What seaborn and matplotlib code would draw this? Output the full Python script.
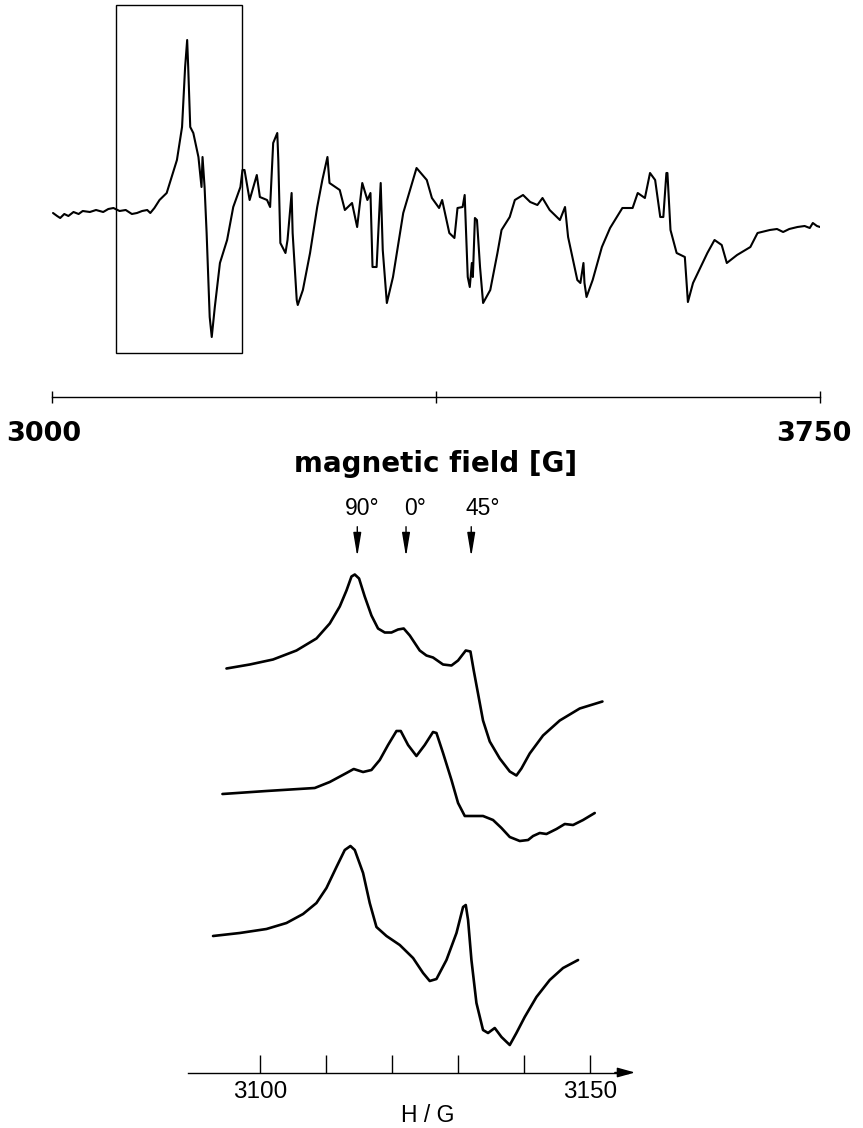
import matplotlib
matplotlib.use("Agg")
import matplotlib.pyplot as plt
from matplotlib import font_manager
from matplotlib.patches import Rectangle
from matplotlib.transforms import ScaledTranslation, blended_transform_factory
import seaborn as sns

# ---------------- data: overview spectrum (3000-3750 G) ----------------
top_field = [3001, 3005, 3008, 3012, 3016, 3021, 3026, 3030, 3037, 3043, 3050, 3055,
             3060, 3066, 3072, 3078, 3083, 3088, 3093, 3096, 3100, 3105, 3112, 3122,
             3127, 3130, 3132, 3133, 3135, 3138, 3143, 3146, 3147, 3149, 3151, 3154,
             3156, 3159, 3164, 3171, 3177, 3184, 3186, 3188, 3193, 3200, 3203, 3210,
             3213, 3216, 3220, 3221, 3223, 3228, 3230, 3234, 3235, 3239, 3240, 3245,
             3252, 3259, 3264, 3269, 3271, 3281, 3286, 3293, 3298, 3303, 3308, 3311,
             3313, 3317, 3321, 3323, 3327, 3333, 3343, 3356, 3366, 3371, 3378, 3381,
             3388, 3393, 3396, 3401, 3403, 3406, 3408, 3410, 3411, 3413, 3415, 3418,
             3421, 3428, 3435, 3439, 3447, 3452, 3460, 3467, 3474, 3479, 3486, 3496,
             3501, 3504, 3513, 3516, 3519, 3520, 3522, 3528, 3537, 3545, 3557, 3567,
             3572, 3579, 3584, 3589, 3594, 3597, 3600, 3601, 3604, 3610, 3618, 3621,
             3626, 3640, 3647, 3654, 3659, 3669, 3682, 3689, 3701, 3708, 3714, 3720,
             3728, 3735, 3740, 3743, 3747, 3750]
top_signal = [0, -3, -5, -1, -3, 1, -1, 2, 1, 3, 1, 4,
              5, 2, 3, -1, 0, 2, 3, 0, 5, 13, 20, 53,
              86, 146, 173, 146, 86, 80, 56, 26, 56, 26, -20, -104,
              -124, -94, -50, -27, 6, 26, 43, 43, 13, 38, 16, 13,
              6, 70, 80, 53, -30, -40, -27, 20, -20, -87, -92, -77,
              -40, 6, 33, 56, 30, 23, 3, 10, -14, 30, 13, 20,
              -54, -54, 30, -37, -90, -64, 0, 45, 33, 15, 5, 13,
              -20, -25, 5, 6, 18, -64, -74, -50, -64, -5, -7, -54,
              -90, -77, -40, -17, -4, 13, 18, 11, 8, 15, 3, -7,
              6, -24, -67, -70, -50, -70, -84, -67, -34, -15, 5, 5,
              20, 15, 40, 33, -4, -4, 40, 40, -17, -40, -44, -89,
              -70, -40, -27, -32, -50, -42, -34, -20, -17, -16, -19, -16,
              -14, -13, -15, -10, -13, -14]
box_field = [3062.5, 3185.3]
box_signal = [-140, 208]
top_ticks = [3000, 3375, 3750]
top_ticklabels = ["3000", "", "3750"]
top_xlabel = "magnetic field [G]"

# ---------------- data: detail spectra (3089-3157 G) ----------------
det1_field = [3094.84, 3098.38, 3101.91, 3105.47, 3108.50, 3110.52, 3112.04, 3113.06,
              3113.82, 3114.32, 3114.97, 3115.83, 3116.85, 3117.85, 3118.87, 3119.89,
              3120.89, 3121.75, 3122.67, 3124.18, 3125.20, 3126.20, 3127.72, 3129.00,
              3130.00, 3131.17, 3131.88, 3132.38, 3133.03, 3133.79, 3134.81, 3136.33,
              3137.85, 3138.86, 3139.62, 3140.88, 3142.90, 3145.44, 3148.47, 3151.92]
det1_signal = [0, 4, 9, 18, 30, 45, 62, 78,
               92, 94, 90, 72, 53, 40, 36, 36,
               39, 40, 33, 18, 13, 11, 4, 3,
               8, 18, 17, -2, -25, -52, -73, -90,
               -103, -107, -100, -85, -67, -52, -40, -33]

det2_field = [3094.23, 3100.91, 3108.24, 3110.52, 3113.06, 3114.16, 3115.58, 3116.85,
              3118.11, 3119.37, 3120.65, 3121.30, 3122.41, 3123.68, 3124.94, 3126.20,
              3126.72, 3127.72, 3129.00, 3130.00, 3131.02, 3132.28, 3133.79, 3135.31,
              3136.59, 3137.85, 3139.37, 3140.63, 3141.39, 3142.40, 3143.42, 3144.94,
              3146.20, 3147.46, 3148.98, 3150.75]
det2_signal = [0, 3, 6, 12, 21, 25, 22, 24,
               34, 49, 63, 63, 49, 38, 49, 62,
               61, 41, 14, -9, -22, -22, -22, -26,
               -34, -43, -47, -46, -42, -39, -40, -35,
               -30, -31, -26, -19]

det3_field = [3092.80, 3096.86, 3100.91, 3103.95, 3106.47, 3108.50, 3110.02, 3111.54,
              3112.80, 3113.66, 3114.32, 3115.58, 3116.59, 3117.61, 3119.13, 3121.15,
              3123.17, 3124.69, 3125.70, 3126.72, 3128.24, 3129.76, 3130.76, 3131.17,
              3131.52, 3132.03, 3132.79, 3133.79, 3134.55, 3135.57, 3136.59, 3137.85,
              3138.86, 3140.12, 3141.90, 3143.92, 3145.94, 3148.22]
det3_signal = [0, 3, 7, 13, 22, 33, 48, 69,
               86, 90, 86, 63, 33, 9, 0, -9,
               -22, -37, -45, -43, -24, 3, 29, 31,
               16, -24, -67, -94, -97, -92, -101, -109,
               -97, -81, -61, -44, -32, -24]

angle_labels = ["90°", "0°", "45°"]
angle_field = [3114.7, 3122.1, 3132.0]
det_ticks = [3100, 3110, 3120, 3130, 3140, 3150]
det_ticklabels = ["3100", "", "", "", "", "3150"]
det_xlabel = "H / G"

# ---------------- layout ----------------
trace_offsets = [404, 278.5, 136.5]
label_field = [3115.5, 3123.4, 3133.8]

sns.set_theme(style="white")
plt.rcParams["font.family"] = ["DejaVu Sans"]

# narrow technical lettering for the lower panel
_names = {f.name for f in font_manager.fontManager.ttflist}
if "Liberation Sans Narrow" in _names:
    narrow = ["Liberation Sans Narrow", "DejaVu Sans"]
    fs_tick, fs_lab, fs_ang = 20, 18, 18
else:
    narrow = ["Liberation Sans", "DejaVu Sans"]
    fs_tick, fs_lab, fs_ang = 17.5, 16.5, 16.5

W, H = 863, 1128
fig = plt.figure(figsize=(W / 100, H / 100), dpi=100)
fig.patch.set_facecolor("white")

# ---- top panel ----
ax1 = fig.add_axes([52 / W, 1 - 396.7 / H, 768 / W, 396.7 / H])
ax1.set_facecolor("white")
sns.lineplot(x=top_field, y=top_signal, ax=ax1, color="black", lw=1.5,
             estimator=None, sort=False)
ax1.add_patch(Rectangle((box_field[0], box_signal[0]), box_field[1] - box_field[0],
                        box_signal[1] - box_signal[0], fill=False, ec="black", lw=1.0))
ax1.set_xlim(3000, 3750)
ax1.set_ylim(-183.7, 213)
for s in ["top", "left", "right"]:
    ax1.spines[s].set_visible(False)
ax1.spines["bottom"].set_color("black")
ax1.spines["bottom"].set_linewidth(1.0)
ax1.set_yticks([])
ax1.set_xticks(top_ticks)
ax1.set_xticklabels(top_ticklabels, fontsize=19.5, fontweight="bold",
                    family=["DejaVu Sans"])
ax1.tick_params(axis="x", bottom=True, direction="inout", length=8, width=1.0,
                color="black", pad=13.5, labelcolor="black")
shifts = [-8, 0, -6]
for lab, sh in zip(ax1.get_xticklabels(), shifts):
    lab.set_transform(lab.get_transform() + ScaledTranslation(sh / 100, 0, fig.dpi_scale_trans))
fig.text(436 / W, 1 - 464 / H, top_xlabel, ha="center", va="center",
         fontsize=20, fontweight="bold", family=["DejaVu Sans"], color="black")

# ---- bottom panel ----
ax2 = fig.add_axes([188 / W, 1 - 1072.5 / H, (628 - 188) / W, (1072.5 - 480) / H])
ax2.set_facecolor("white")
for fx, sy, off in zip([det1_field, det2_field, det3_field],
                       [det1_signal, det2_signal, det3_signal], trace_offsets):
    sns.lineplot(x=fx, y=[v + off for v in sy], ax=ax2, color="black", lw=1.9,
                 estimator=None, sort=False)
for ln in ax2.lines:
    ln.set_solid_joinstyle("round")
ax2.set_xlim(3089.0, 3155.8)
ax2.set_ylim(0, 592.5)
for s in ["top", "left", "right"]:
    ax2.spines[s].set_visible(False)
ax2.spines["bottom"].set_color("black")
ax2.spines["bottom"].set_linewidth(1.0)
ax2.set_yticks([])
ax2.set_xticks(det_ticks)
ax2.set_xticklabels(det_ticklabels, fontsize=fs_tick, family=narrow)
ax2.tick_params(axis="x", bottom=True, direction="in", length=13, width=1.0,
                color="black", pad=6, labelcolor="black")
ax2.annotate("", xy=(1.0 + 7 / 440, 0), xytext=(0.97, 0), xycoords="axes fraction",
             arrowprops=dict(arrowstyle="-|>,head_length=0.9,head_width=0.25",
                             color="black", lw=1.0, shrinkA=0, shrinkB=0),
             annotation_clip=False)
bt = blended_transform_factory(ax2.transData, ax2.transAxes)
ax2.text(3125.4, -43 / 592.5, det_xlabel, transform=bt, ha="center", va="center",
         fontsize=fs_lab, family=narrow, color="black")

for lab, fa, fl in zip(angle_labels, angle_field, label_field):
    ax2.annotate("", xy=(fa, 515.8), xytext=(fa, 545.8),
                 arrowprops=dict(arrowstyle="-|>,head_length=1.2,head_width=0.2",
                                 color="black", lw=1.0, shrinkA=0, shrinkB=0))
    ax2.text(fl, 564, lab, ha="center", va="center", fontsize=fs_ang, family=narrow,
             color="black")

fig.savefig("out.png", dpi=100, facecolor="white")
